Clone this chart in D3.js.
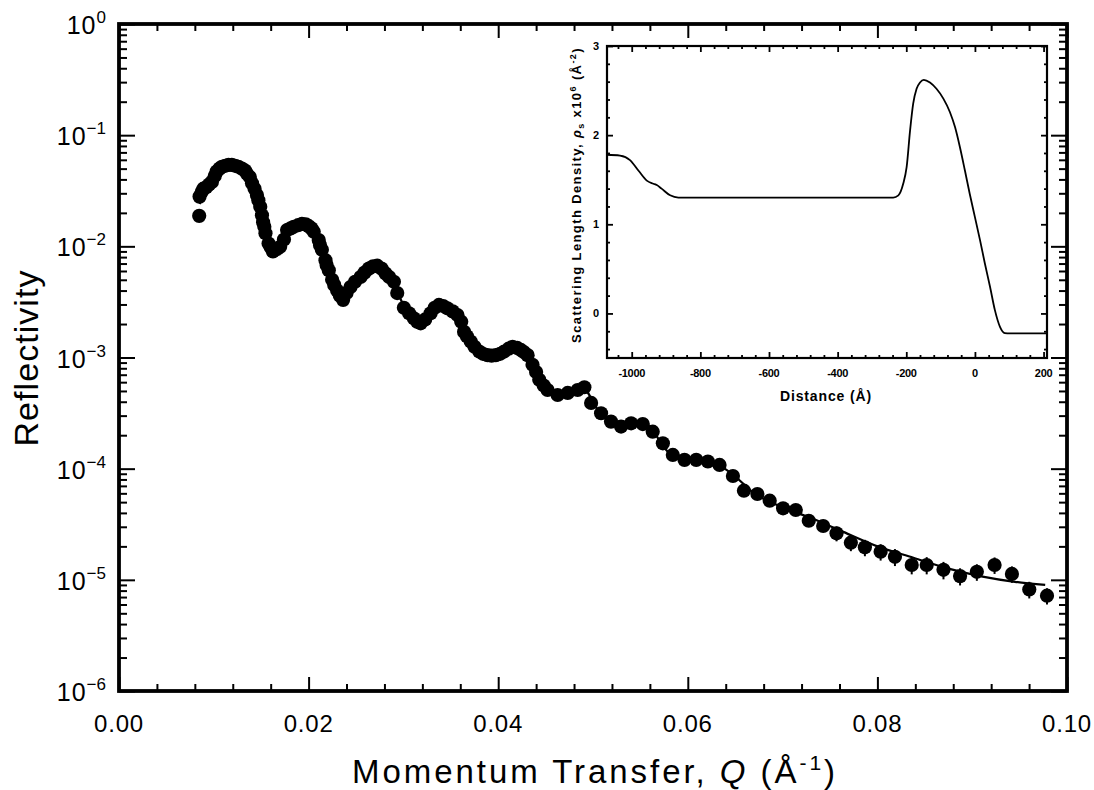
<!DOCTYPE html>
<html><head><meta charset="utf-8">
<script src="https://cdn.jsdelivr.net/npm/d3@7"></script>
<style>body{margin:0;background:#fff}svg{display:block}</style>
</head><body><svg id="c" width="1094" height="790"></svg>
<script>
// ---------- data ----------
const qValues = [0.00846,0.00850,0.00874,0.0089,0.0092,0.0095,0.0098,0.0101,0.0103,0.0106,0.01085,0.0112,0.01155,0.0119,0.01226,0.0126,0.01297,0.0133,0.0135,0.0138,0.01403,0.0143,0.01455,0.0147,0.0149,0.01508,0.0152,0.01533,0.01545,0.01578,0.0160,0.01624,0.0167,0.0170,0.0174,0.01773,0.0181,0.01843,0.0189,0.0193,0.0197,0.0200,0.0203,0.02054,0.02107,0.0212,0.0214,0.02178,0.0219,0.02213,0.02248,0.0227,0.02301,0.0233,0.02364,0.0240,0.02442,0.0249,0.02548,0.0259,0.02635,0.0268,0.02724,0.0277,0.02812,0.0285,0.0290,0.02935,0.03005,0.0306,0.0311,0.03145,0.03182,0.0323,0.03287,0.0333,0.03375,0.0342,0.03464,0.0352,0.0357,0.0361,0.0364,0.0367,0.0371,0.0375,0.0380,0.0384,0.03887,0.0393,0.03975,0.0402,0.04063,0.0411,0.04151,0.0420,0.04239,0.0427,0.0431,0.04362,0.0440,0.04433,0.0448,0.04521,0.04627,0.04733,0.04838,0.04909,0.0498,0.05085,0.0519,0.05296,0.05402,0.05525,0.0563,0.05737,0.05842,0.05965,0.06089,0.06212,0.06335,0.06476,0.06592,0.06734,0.06864,0.07005,0.07139,0.07276,0.07428,0.07569,0.0772,0.07868,0.08034,0.08185,0.08362,0.0852,0.08697,0.08872,0.09049,0.09236,0.09419,0.09602,0.09789];
const reflectivity = [0.0188,0.028,0.031,0.033,0.034,0.036,0.038,0.043,0.047,0.050,0.052,0.053,0.054,0.054,0.053,0.052,0.050,0.048,0.045,0.042,0.037,0.033,0.029,0.026,0.0227,0.019,0.0165,0.0150,0.0131,0.0106,0.0098,0.0090,0.0095,0.0099,0.0115,0.0140,0.0145,0.0150,0.0155,0.0159,0.0158,0.0152,0.0145,0.0135,0.0114,0.0103,0.0093,0.0075,0.0068,0.0061,0.0050,0.0045,0.0040,0.0036,0.0033,0.0038,0.0043,0.0048,0.0053,0.0058,0.0063,0.0066,0.0067,0.0063,0.0057,0.0053,0.0048,0.0038,0.0028,0.0025,0.00225,0.0021,0.00203,0.0022,0.0025,0.0028,0.00297,0.0029,0.00277,0.0026,0.00241,0.0021,0.0017,0.00155,0.00139,0.00125,0.00113,0.00108,0.00105,0.00104,0.00105,0.00108,0.00113,0.0012,0.00125,0.00122,0.00117,0.00112,0.00105,0.00086,0.00074,0.00063,0.00056,0.00051,0.00046,0.00048,0.00051,0.00054,0.00039,0.000315,0.000265,0.000239,0.000256,0.000252,0.000215,0.000169,0.000133,0.00012,0.00012,0.000116,0.000108,0.0000859,0.0000634,0.0000592,0.0000515,0.000044,0.0000425,0.000034,0.0000305,0.0000262,0.0000216,0.0000196,0.0000179,0.0000161,0.0000136,0.0000136,0.0000123,0.0000108,0.0000118,0.0000136,0.0000113,0.0000082,0.0000072];
const errQ = [0.07569,0.0772,0.07868,0.08034,0.08185,0.08362,0.0852,0.08697,0.08872,0.09049,0.09236,0.09419,0.09602,0.09789];
const errR = [0.0000262,0.0000216,0.0000196,0.0000179,0.0000161,0.0000136,0.0000136,0.0000123,0.0000108,0.0000118,0.0000136,0.0000113,0.0000082,0.0000072];
const errSize = [0.0000040,0.0000035,0.0000033,0.0000030,0.0000028,0.0000024,0.0000024,0.0000022,0.0000019,0.0000020,0.0000023,0.0000019,0.0000014,0.0000012];
const fitQ = [0.0085,0.0095,0.0105,0.0118,0.013,0.014,0.015,0.0158,0.0165,0.0175,0.019,0.0202,0.0215,0.023,0.0238,0.025,0.027,0.0285,0.030,0.0318,0.0335,0.0355,0.037,0.039,0.0415,0.043,0.0445,0.046,0.049,0.0505,0.053,0.0555,0.058,0.0605,0.063,0.065,0.067,0.070,0.073,0.0764,0.080,0.0838,0.0875,0.0911,0.0945,0.0977];
const fitR = [0.024,0.036,0.048,0.053,0.049,0.037,0.021,0.0115,0.0093,0.012,0.0155,0.015,0.009,0.0042,0.0036,0.0049,0.0066,0.0055,0.0030,0.0021,0.0029,0.0025,0.0014,0.00105,0.00123,0.00105,0.00062,0.00047,0.00052,0.00034,0.00024,0.00025,0.00014,0.00012,0.00011,0.000085,0.00006,0.000045,0.000036,0.000027,0.000020,0.0000158,0.0000126,0.0000107,0.0000096,0.0000090];
const xMajorTicks = [0,0.02,0.04,0.06,0.08,0.10];
const xTickLabels = ["0.00","0.02","0.04","0.06","0.08","0.10"];
const xMinorTicks = [0.004,0.008,0.012,0.016,0.024,0.028,0.032,0.036,0.044,0.048,0.052,0.056,0.064,0.068,0.072,0.076,0.084,0.088,0.092,0.096];
const yDecades = [0,-1,-2,-3,-4,-5,-6];
const yMinorMult = [2,3,4,5,6,7,8,9];

// inset: scattering length density profile
const profileX = [-1072,-1034,-1005,-980,-956,-937,-927,-913,-888,-864,-600,-400,-238,-223,-209,-199,-189,-180,-170,-160,-149,-131,-112,-92,-73,-58,-44,-29,-15,0,15,29,44,58,73,87,102,210];
const profileY = [1.78,1.77,1.72,1.60,1.49,1.455,1.44,1.40,1.325,1.30,1.30,1.30,1.30,1.325,1.455,1.64,2.05,2.35,2.52,2.59,2.62,2.59,2.52,2.41,2.26,2.09,1.87,1.60,1.34,1.08,0.82,0.56,0.30,0.04,-0.15,-0.22,-0.224,-0.224];
const insetXTicks = [-1000,-800,-600,-400,-200,0,200];
const insetXLabels = ["-1000","-800","-600","-400","-200","0","200"];
const insetXMinor = [-1040,-960,-920,-880,-840,-760,-720,-680,-640,-560,-520,-480,-440,-360,-320,-280,-240,-160,-120,-80,-40,40,80,120,160];
const insetYTicks = [0,1,2,3];
const insetYMinor = [-0.4,-0.2,0.2,0.4,0.6,0.8,1.2,1.4,1.6,1.8,2.2,2.4,2.6,2.8];

// ---------- drawing ----------
const svg = d3.select("#c");
const FONT = "'Liberation Sans', Arial, Helvetica, sans-serif";
const L=119, R=1067, T=24, B=691;
const x = d3.scaleLinear().domain([0,0.1]).range([L,R]);
const y = d3.scaleLog().domain([1e-6,1]).range([B,T]);

function fitWidth(sel, target){
  const n = sel.text().length;
  const len = sel.node().getComputedTextLength();
  sel.attr("letter-spacing", ((target-len)/n).toFixed(2));
}

// fit line
const line = d3.line().x(d=>x(d[0])).y(d=>y(d[1])).curve(d3.curveMonotoneX);
svg.append("path").datum(fitQ.map((q,i)=>[q,fitR[i]])).attr("d",line)
  .attr("fill","none").attr("stroke","#000").attr("stroke-width",2.2);

// error bars
svg.append("g").selectAll("line").data(errQ).join("line")
  .attr("x1",(d)=>x(d)).attr("x2",(d)=>x(d))
  .attr("y1",(d,i)=>y(errR[i]+errSize[i])).attr("y2",(d,i)=>y(errR[i]-errSize[i]))
  .attr("stroke","#000").attr("stroke-width",2);

// data points
svg.append("g").selectAll("circle").data(qValues).join("circle")
  .attr("cx",d=>x(d)).attr("cy",(d,i)=>y(reflectivity[i])).attr("r",7.1).attr("fill","#000");

// axes ticks
function addAxis(axis, tf, len){
  const g = svg.append("g").attr("transform",tf).call(axis.tickSize(len).tickFormat(""));
  g.select(".domain").remove();
  g.selectAll(".tick line").attr("stroke","#000").attr("stroke-width",2);
  return g;
}
addAxis(d3.axisBottom(x).tickValues(xMajorTicks), `translate(0,${B})`, -14);
addAxis(d3.axisBottom(x).tickValues(xMinorTicks), `translate(0,${B})`, -7);
addAxis(d3.axisTop(x).tickValues(xMajorTicks), `translate(0,${T})`, -14);
addAxis(d3.axisTop(x).tickValues(xMinorTicks), `translate(0,${T})`, -7);
const yMaj = yDecades.map(e=>Math.pow(10,e));
const yMin = [];
yDecades.slice(0,-1).forEach(e=>yMinorMult.forEach(m=>yMin.push(m*Math.pow(10,e-1))));
addAxis(d3.axisLeft(y).tickValues(yMaj), `translate(${L},0)`, -16);
addAxis(d3.axisLeft(y).tickValues(yMin), `translate(${L},0)`, -8);
addAxis(d3.axisRight(y).tickValues(yMaj), `translate(${R},0)`, -16);
addAxis(d3.axisRight(y).tickValues(yMin), `translate(${R},0)`, -8);

// frame
svg.append("rect").attr("x",L).attr("y",T).attr("width",R-L).attr("height",B-T)
  .attr("fill","none").attr("stroke","#000").attr("stroke-width",3.8);

// x tick labels
xMajorTicks.forEach((v,i)=>{
  svg.append("text").attr("x",x(v)).attr("y",732).attr("text-anchor","middle")
    .attr("font-family",FONT).attr("font-size",24).attr("letter-spacing",0.8).text(xTickLabels[i]);
});
// y tick labels
yDecades.forEach(e=>{
  const t = svg.append("text").attr("x",106).attr("y",y(Math.pow(10,e))+10).attr("text-anchor","end")
    .attr("font-family",FONT).attr("font-size",25);
  t.append("tspan").text("10").attr("letter-spacing",1);
  t.append("tspan").attr("dy",-11).attr("font-size",17).text(e===0?"0":"\u2212"+(-e));
});

// axis titles
const xt = svg.append("text").attr("x",595).attr("y",783).attr("text-anchor","middle")
  .attr("font-family",FONT).attr("font-size",33);
xt.append("tspan").text("Momentum Transfer, ");
xt.append("tspan").attr("font-style","italic").text("Q");
xt.append("tspan").text(" (Å");
xt.append("tspan").attr("dy",-13).attr("font-size",21).text("-1");
xt.append("tspan").attr("dy",13).text(")");
fitWidth(xt, 486);

const yt = svg.append("text").attr("transform","translate(38,358) rotate(-90)").attr("text-anchor","middle")
  .attr("font-family",FONT).attr("font-size",34).text("Reflectivity");
fitWidth(yt, 177);

// ---------- inset ----------
const IL=607, IR=1047, IT=46, IB=358;
const ix = d3.scaleLinear().domain([-1072,210]).range([IL,IR]);
const iy = d3.scaleLinear().domain([-0.5,3]).range([IB,IT]);
svg.append("rect").attr("x",IL).attr("y",IT).attr("width",IR-IL).attr("height",IB-IT).attr("fill","#fff");
function addIAxis(axis, tf, len){
  const g = svg.append("g").attr("transform",tf).call(axis.tickSize(len).tickFormat(""));
  g.select(".domain").remove();
  g.selectAll(".tick line").attr("stroke","#000").attr("stroke-width",1.8);
}
addIAxis(d3.axisBottom(ix).tickValues(insetXTicks), `translate(0,${IB})`, -6);
addIAxis(d3.axisBottom(ix).tickValues(insetXMinor), `translate(0,${IB})`, -3);
addIAxis(d3.axisTop(ix).tickValues(insetXTicks), `translate(0,${IT})`, -6);
addIAxis(d3.axisTop(ix).tickValues(insetXMinor), `translate(0,${IT})`, -3);
addIAxis(d3.axisLeft(iy).tickValues(insetYTicks), `translate(${IL},0)`, -6);
addIAxis(d3.axisLeft(iy).tickValues(insetYMinor), `translate(${IL},0)`, -3);
addIAxis(d3.axisRight(iy).tickValues(insetYTicks), `translate(${IR},0)`, -6);
addIAxis(d3.axisRight(iy).tickValues(insetYMinor), `translate(${IR},0)`, -3);

const pline = d3.line().x(d=>ix(d[0])).y(d=>iy(d[1])).curve(d3.curveMonotoneX);
svg.append("path").datum(profileX.map((v,i)=>[v,profileY[i]])).attr("d",pline)
  .attr("fill","none").attr("stroke","#000").attr("stroke-width",1.8);
svg.append("rect").attr("x",IL).attr("y",IT).attr("width",IR-IL).attr("height",IB-IT)
  .attr("fill","none").attr("stroke","#000").attr("stroke-width",2.2);

insetXTicks.forEach((v,i)=>{
  svg.append("text").attr("x",ix(v)).attr("y",377).attr("text-anchor","middle")
    .attr("font-family",FONT).attr("font-weight","bold").attr("font-size",11).attr("letter-spacing",-0.3).text(insetXLabels[i]);
});
insetYTicks.forEach(v=>{
  svg.append("text").attr("x",599).attr("y",iy(v)+4).attr("text-anchor","end")
    .attr("font-family",FONT).attr("font-weight","bold").attr("font-size",11).text(String(v));
});
const ixt = svg.append("text").attr("x",826).attr("y",401).attr("text-anchor","middle")
  .attr("font-family",FONT).attr("font-weight","bold").attr("font-size",14).text("Distance (Å)");
fitWidth(ixt, 92);
const iyt = svg.append("text").attr("transform","translate(581,195) rotate(-90)").attr("text-anchor","middle")
  .attr("font-family",FONT).attr("font-weight","bold").attr("font-size",13);
iyt.append("tspan").text("Scattering Length Density, ");
iyt.append("tspan").attr("font-style","italic").text("ρ");
iyt.append("tspan").attr("dy",3).attr("font-size",9).text("s");
iyt.append("tspan").attr("dy",-3).text(" x10");
iyt.append("tspan").attr("dy",-5).attr("font-size",9).text("6");
iyt.append("tspan").attr("dy",5).text(" (Å");
iyt.append("tspan").attr("dy",-5).attr("font-size",9).text("-2");
iyt.append("tspan").attr("dy",5).text(")");
fitWidth(iyt, 296);
</script></body></html>
